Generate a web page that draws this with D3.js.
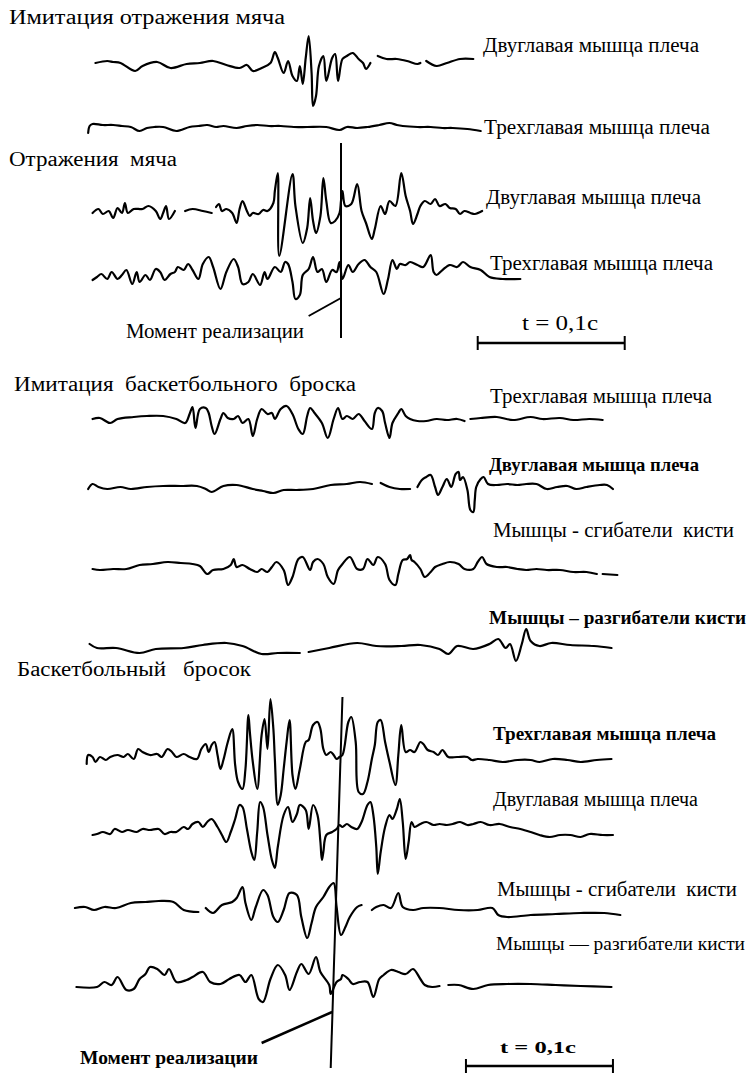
<!DOCTYPE html>
<meta charset="utf-8">
<script src="https://d3js.org/d3.v7.min.js"></script>
<style>
  body { margin: 0; background: #fff; }
  text { font-family: "Liberation Serif", "Times New Roman", serif; fill: #000; white-space: pre; }
</style>
<body>
<div id="chart"></div>
<script>
  // EMG traces: [time in ms from the moment of release, amplitude in rel. units]
  // null = pen lifted (gap in the trace)
  var imitReflectBiceps = [[-167,0],[-159,2],[-155,1],[-150,0],[-140,-8],[-135,-3],[-125,1],[-116,-5],[-105,-1],[-96,0],[-87,2],[-78,-2],[-69,-5],[-64,-2],[-60,-8],[-54,-5],[-48,0],[-45,11],[-43,5],[-39,-10],[-36,2],[-33,-13],[-30,-18],[-28,-3],[-26,-21],[-24,5],[-22,27],[-20,-10],[-19,-43],[-17,-33],[-15,-3],[-12,7],[-10,-18],[-6,5],[-4,9],[-2,-18],[1,4],[4,7],[8,10],[12,4],[15,0],[17,-6],[20,0],[22,null],[25,7],[31,4],[38,4],[45,2],[52,-1],[54,0],[56,null],[58,2],[65,-3],[72,0],[81,4],[90,4]];
  var imitReflectTriceps = [[-172,-5],[-171,2],[-169,4],[-162,3],[-155,3],[-149,2],[-143,1],[-137,-3],[-132,0],[-127,1],[-121,1],[-112,-3],[-103,1],[-97,2],[-91,3],[-85,1],[-80,2],[-71,0],[-64,2],[-57,3],[-49,2],[-41,2],[-32,1],[-23,1],[-10,1],[-1,-2],[4,1],[11,0],[18,1],[26,3],[33,5],[38,3],[42,2],[52,1],[61,1],[69,0],[76,0],[86,-1],[95,-3]];

  var reflectBiceps = [[-169,-2],[-165,2],[-162,-3],[-158,0],[-155,-7],[-152,3],[-149,-2],[-147,8],[-145,-2],[-141,2],[-135,2],[-131,5],[-126,0],[-123,-8],[-121,-2],[-119,5],[-117,-8],[-113,0],[-110,null],[-106,0],[-101,2],[-94,0],[-88,-2],[-87,null],[-85,4],[-83,7],[-81,0],[-78,2],[-74,-2],[-71,-12],[-69,2],[-67,10],[-64,0],[-62,-5],[-60,-2],[-56,-3],[-53,1],[-50,0],[-46,8],[-45,20],[-43,38],[-42,-45],[-33,37],[-31,5],[-26,-32],[-23,-17],[-21,13],[-19,-10],[-17,-22],[-14,-5],[-12,33],[-10,10],[-7,-12],[-4,-10],[-1,-2],[0,10],[1,20],[3,5],[7,7],[11,27],[14,0],[17,-12],[21,-28],[23,-18],[27,5],[30,-3],[33,10],[37,5],[41,38],[44,15],[47,0],[49,-13],[52,-3],[54,5],[57,10],[61,7],[64,12],[67,5],[71,7],[74,3],[78,2],[81,-3],[84,0],[88,-2],[91,-3],[96,0]];
  var reflectTriceps = [[-169,-8],[-166,-5],[-163,-2],[-159,-7],[-156,0],[-152,-7],[-149,-3],[-146,2],[-142,-12],[-139,0],[-137,-10],[-133,-3],[-130,-8],[-126,3],[-123,0],[-120,-8],[-116,-2],[-113,0],[-111,5],[-107,2],[-104,8],[-101,2],[-97,-7],[-94,8],[-90,15],[-87,5],[-82,-17],[-78,0],[-73,13],[-70,5],[-67,-12],[-63,-10],[-60,-2],[-55,-13],[-52,0],[-50,-7],[-45,5],[-41,0],[-38,10],[-36,8],[-33,-10],[-31,-27],[-28,-23],[-26,-3],[-22,3],[-19,15],[-16,0],[-13,3],[-10,-10],[-6,2],[-3,0],[-1,10],[1,-7],[5,7],[8,0],[12,8],[16,12],[20,5],[24,0],[29,-22],[32,-7],[35,12],[38,3],[40,8],[44,7],[47,10],[52,7],[56,5],[61,17],[63,0],[65,-3],[69,2],[74,7],[79,5],[83,10],[88,5],[95,2],[101,-5],[110,-7],[122,-7]];

  var imitThrowTriceps = [[-169,-1],[-164,0],[-157,-5],[-152,-1],[-141,1],[-132,2],[-121,2],[-112,-1],[-106,-5],[-103,4],[-101,11],[-99,-10],[-96,9],[-92,10],[-90,5],[-88,-8],[-86,-16],[-82,-1],[-80,5],[-77,0],[-73,-1],[-70,2],[-67,-5],[-63,-1],[-60,-18],[-57,-1],[-54,9],[-50,4],[-47,5],[-45,-1],[-41,9],[-37,12],[-33,4],[-29,-11],[-26,-16],[-23,2],[-21,10],[-18,5],[-13,-5],[-9,-20],[-5,-1],[-2,10],[1,-1],[4,2],[8,-1],[12,4],[16,-3],[21,-11],[23,5],[25,10],[28,7],[30,-5],[33,-20],[35,-5],[39,5],[41,9],[44,2],[47,-1],[52,-3],[58,-3],[65,-1],[72,-2],[79,-1],[84,-3],[86,null],[88,-1],[95,0],[106,1],[117,-2],[129,1],[137,-1],[149,0],[158,-2],[169,-1],[178,-2]];
  var imitThrowBiceps = [[-172,-3],[-169,2],[-165,-1],[-159,-3],[-150,-1],[-143,-3],[-132,-1],[-121,0],[-109,0],[-98,0],[-92,-3],[-88,-6],[-80,0],[-71,1],[-60,-3],[-53,-5],[-46,-7],[-39,-4],[-30,-4],[-19,-3],[-7,1],[4,2],[13,4],[21,2],[23,null],[27,3],[33,-1],[40,-3],[47,-3],[49,null],[52,-1],[55,6],[58,9],[61,11],[64,-1],[66,-9],[69,-1],[72,7],[75,-1],[78,12],[80,14],[81,6],[83,9],[86,-4],[88,-24],[90,-26],[91,-14],[92,-1],[95,7],[97,9],[100,2],[106,1],[113,2],[120,1],[126,2],[133,2],[140,-3],[147,-1],[154,0],[160,-3],[167,-1],[176,1],[181,1],[185,-3]];
  var imitThrowFlexors = [[-169,-2],[-164,-3],[-155,-2],[-146,-2],[-137,2],[-128,3],[-118,5],[-109,4],[-101,3],[-96,1],[-91,-7],[-87,-3],[-80,-2],[-75,2],[-73,8],[-71,0],[-67,2],[-62,-2],[-57,-5],[-54,-2],[-50,-5],[-47,0],[-44,5],[-39,-3],[-36,-18],[-33,-10],[-29,8],[-26,10],[-21,-3],[-19,5],[-16,8],[-12,3],[-9,-10],[-5,-17],[-2,-3],[1,3],[6,10],[11,-2],[15,-2],[18,8],[22,2],[25,10],[30,3],[33,-13],[37,-18],[39,-7],[42,7],[45,8],[47,12],[48,7],[50,5],[54,-2],[57,-10],[61,-5],[64,0],[69,3],[74,5],[80,3],[84,-2],[90,-2],[93,5],[96,10],[99,3],[106,0],[113,0],[120,-2],[126,-3],[133,-2],[140,-3],[149,-3],[158,-5],[167,-5],[174,-7],[176,null],[178,-7],[188,-8]];
  var imitThrowExtensors = [[-171,2],[-166,-2],[-153,-2],[-137,-7],[-126,-3],[-107,-2],[-94,1],[-78,3],[-67,0],[-54,-8],[-43,-7],[-28,-7],[-26,null],[-22,-6],[-8,-2],[11,3],[24,0],[41,0],[54,1],[67,-3],[73,-8],[79,0],[90,-3],[101,2],[107,7],[112,-2],[115,2],[119,-15],[123,2],[126,17],[129,5],[135,0],[143,3],[156,1],[172,0],[184,-2]];

  var throwTriceps = [[-173,-7],[-172,2],[-169,0],[-167,-5],[-164,0],[-160,-3],[-157,0],[-152,2],[-148,0],[-145,3],[-141,-2],[-138,8],[-135,5],[-130,2],[-125,3],[-122,0],[-118,8],[-115,5],[-112,0],[-107,3],[-103,0],[-98,-2],[-95,8],[-92,13],[-90,5],[-88,12],[-86,15],[-84,2],[-82,-12],[-80,-3],[-77,15],[-74,28],[-72,-8],[-70,-25],[-67,-32],[-65,-12],[-63,42],[-62,25],[-60,-5],[-57,-32],[-54,22],[-52,38],[-50,8],[-48,58],[-46,28],[-45,-2],[-43,-48],[-41,-38],[-39,-12],[-37,15],[-35,37],[-33,-18],[-31,-32],[-28,-12],[-24,15],[-22,17],[-19,32],[-16,35],[-14,28],[-12,8],[-10,2],[-7,5],[-5,2],[-3,-2],[-1,0],[1,2],[5,35],[7,40],[10,15],[12,-35],[15,-37],[18,-25],[21,-2],[23,12],[25,35],[27,37],[30,15],[33,-5],[37,-28],[39,2],[41,32],[44,5],[47,7],[50,5],[54,15],[56,13],[59,7],[63,5],[66,2],[69,7],[73,0],[79,0],[86,0],[89,-3],[93,-2],[101,-3],[110,-5],[120,-3],[129,-3],[135,-5],[144,-2],[154,-3],[163,-5],[174,-3],[184,-2]];
  var throwBiceps = [[-169,-5],[-166,-4],[-162,-2],[-157,-4],[-154,1],[-149,-2],[-145,0],[-139,-2],[-135,1],[-130,0],[-124,1],[-120,-4],[-116,-2],[-112,-2],[-107,3],[-104,1],[-101,6],[-97,8],[-94,3],[-91,8],[-88,11],[-84,3],[-81,-5],[-78,-12],[-75,-2],[-72,11],[-69,25],[-67,23],[-64,1],[-61,-22],[-59,-30],[-57,-2],[-55,28],[-53,23],[-50,-5],[-47,-30],[-45,-38],[-43,-17],[-39,15],[-36,23],[-33,8],[-30,16],[-28,25],[-24,20],[-22,1],[-19,25],[-16,15],[-14,-12],[-13,-30],[-12,-22],[-10,-5],[-6,-2],[-3,1],[-1,5],[1,3],[4,6],[7,3],[11,1],[14,8],[18,25],[20,28],[22,15],[24,-17],[25,-44],[27,-22],[30,3],[33,15],[35,11],[38,21],[40,31],[42,8],[44,-29],[46,-12],[48,8],[50,3],[54,6],[58,8],[63,5],[67,6],[72,5],[76,6],[81,8],[86,5],[90,6],[95,8],[101,5],[108,6],[115,3],[122,1],[129,-2],[135,-5],[142,-7],[149,-5],[156,-5],[163,-7],[169,-4],[178,-5],[185,-5]];
  var throwFlexors = [[-181,0],[-174,1],[-168,-2],[-161,1],[-153,0],[-143,5],[-133,6],[-124,7],[-114,6],[-107,-2],[-97,-4],[-95,null],[-92,0],[-87,-5],[-81,3],[-74,6],[-71,10],[-67,21],[-65,5],[-61,-12],[-58,1],[-53,18],[-50,13],[-46,-9],[-43,-14],[-39,-2],[-35,15],[-30,13],[-27,-9],[-23,-30],[-20,-15],[-17,1],[-12,11],[-8,21],[-5,25],[-3,1],[0,-27],[3,-19],[6,-9],[11,1],[14,3],[16,null],[21,-2],[24,1],[29,3],[34,0],[39,15],[42,1],[49,-2],[56,0],[67,0],[80,-2],[93,-2],[103,0],[107,-7],[113,-9],[129,-7],[146,-6],[163,-5],[179,-5],[190,-7]];
  var throwExtensors = [[-180,-2],[-166,-2],[-161,3],[-156,0],[-152,8],[-146,-5],[-141,-4],[-137,6],[-133,11],[-130,18],[-125,16],[-120,10],[-117,16],[-112,3],[-105,5],[-101,8],[-94,13],[-89,3],[-82,1],[-76,6],[-69,10],[-65,3],[-61,10],[-56,-14],[-53,-17],[-48,6],[-43,20],[-38,10],[-35,-5],[-30,13],[-27,21],[-22,11],[-17,28],[-14,13],[-8,0],[-7,-9],[-3,3],[0,6],[1,10],[5,6],[8,1],[13,3],[18,3],[22,-12],[26,6],[29,10],[34,15],[39,13],[44,11],[49,16],[54,6],[57,0],[62,-2],[67,-1],[69,null],[73,0],[80,0],[90,-4],[100,0],[113,1],[129,1],[146,0],[163,-1],[184,-2]];

  var panelTitles = ["Имитация отражения мяча", "Отражения  мяча", "Имитация  баскетбольного  броска", "Баскетбольный   бросок"];
  var muscleNames = ["Двуглавая мышца плеча", "Трехглавая мышца плеча", "Мышцы - сгибатели  кисти", "Мышцы – разгибатели кисти", "Мышцы — разгибатели кисти"];
  var momentLabel = "Момент реализации";
  var scaleLabel = "t = 0,1с";
  var scaleBarMs = 100;

  var W = 752, H = 1075;
  var svg = d3.select("#chart").append("svg")
    .attr("width", W)
    .attr("height", H);

  // time axis shared by all records (paper speed: 0.1 s = 147 px)
  var x = d3.scaleLinear().domain([0, 100]).range([341, 488]);

  // one row per trace: which data, where its zero line sits, its label
  var rows = [
    { data: imitReflectBiceps,  base: 63,  name: 0, lx: 483, ly: 52,  lw: 216, fs: 20 },
    { data: imitReflectTriceps, base: 128, name: 1, lx: 484, ly: 134, lw: 226, fs: 20 },
    { data: reflectBiceps,      base: 211, name: 0, lx: 486, ly: 204, lw: 215, fs: 20 },
    { data: reflectTriceps,     base: 272, name: 1, lx: 490, ly: 270, lw: 223, fs: 20 },
    { data: imitThrowTriceps,   base: 418, name: 1, lx: 490, ly: 403, lw: 222, fs: 20 },
    { data: imitThrowBiceps,    base: 486, name: 0, lx: 489, ly: 471, lw: 210, fs: 19, bold: true },
    { data: imitThrowFlexors,   base: 567, name: 2, lx: 493, ly: 537, lw: 241, fs: 20 },
    { data: imitThrowExtensors, base: 646, name: 3, lx: 489, ly: 624, lw: 257, fs: 18, bold: true },
    { data: throwTriceps,       base: 757, name: 1, lx: 493, ly: 740, lw: 223, fs: 19, bold: true },
    { data: throwBiceps,        base: 830, name: 0, lx: 493, ly: 806, lw: 205, fs: 20 },
    { data: throwFlexors,       base: 908, name: 2, lx: 497, ly: 896, lw: 240, fs: 20 },
    { data: throwExtensors,     base: 985, name: 4, lx: 496, ly: 950, lw: 249, fs: 18 }
  ];

  var titles = [
    { i: 0, x: 9,  y: 24,  w: 276 },
    { i: 1, x: 9,  y: 166, w: 168 },
    { i: 2, x: 14, y: 391, w: 342 },
    { i: 3, x: 17, y: 676, w: 234 }
  ];

  rows.forEach(function (r) {
    var y = d3.scaleLinear().domain([0, 1]).range([r.base, r.base - 1]);
    var line = d3.line()
      .defined(function (d) { return d[1] !== null; })
      .x(function (d) { return x(d[0]); })
      .y(function (d) { return y(d[1]); })
      .curve(d3.curveCatmullRom.alpha(0.5));

    svg.append("path")
      .datum(r.data)
      .attr("d", line)
      .attr("fill", "none")
      .attr("stroke", "#000")
      .attr("stroke-width", 2.2)
      .attr("stroke-linejoin", "round")
      .attr("stroke-linecap", "round");

    svg.append("text")
      .attr("x", r.lx)
      .attr("y", r.ly)
      .attr("font-size", r.fs)
      .attr("font-weight", r.bold ? "bold" : "normal")
      .attr("textLength", r.lw)
      .attr("lengthAdjust", "spacingAndGlyphs")
      .text(muscleNames[r.name]);
  });

  titles.forEach(function (t) {
    svg.append("text")
      .attr("x", t.x)
      .attr("y", t.y)
      .attr("font-size", 20)
      .attr("textLength", t.w)
      .attr("lengthAdjust", "spacingAndGlyphs")
      .text(panelTitles[t.i]);
  });

  // moment of release markers
  function mark(x1, y1, x2, y2, w) {
    svg.append("line")
      .attr("x1", x1).attr("y1", y1)
      .attr("x2", x2).attr("y2", y2)
      .attr("stroke", "#000")
      .attr("stroke-width", w);
  }
  mark(x(0), 143, x(0), 338, 2);
  mark(x(0), 298, x(-22), 316, 2);
  mark(x(1), 697, x(-7), 1068, 2);
  mark(x(-6), 1012, x(-54), 1043, 2.5);

  svg.append("text")
    .attr("x", 126).attr("y", 338)
    .attr("font-size", 20)
    .attr("textLength", 178)
    .attr("lengthAdjust", "spacingAndGlyphs")
    .text(momentLabel);
  svg.append("text")
    .attr("x", 80).attr("y", 1064)
    .attr("font-size", 19)
    .attr("font-weight", "bold")
    .attr("textLength", 178)
    .attr("lengthAdjust", "spacingAndGlyphs")
    .text(momentLabel);

  // 0.1 s scale bars
  var bars = [
    { t0: 93, y: 343, lx: 522, ly: 330, lw: 76, bold: false },
    { t0: 85, y: 1066, lx: 500, ly: 1053, lw: 76, bold: true }
  ];
  bars.forEach(function (b) {
    var x0 = x(b.t0), x1 = x(b.t0 + scaleBarMs);
    mark(x0, b.y, x1, b.y, 2.5);
    mark(x0, b.y - 7, x0, b.y + 7, 2);
    mark(x1, b.y - 7, x1, b.y + 7, 2);
    svg.append("text")
      .attr("x", b.lx).attr("y", b.ly)
      .attr("font-size", b.bold ? 17 : 20)
      .attr("font-weight", b.bold ? "bold" : "normal")
      .attr("textLength", b.lw)
      .attr("lengthAdjust", "spacingAndGlyphs")
      .text(scaleLabel);
  });
</script>
</body>
